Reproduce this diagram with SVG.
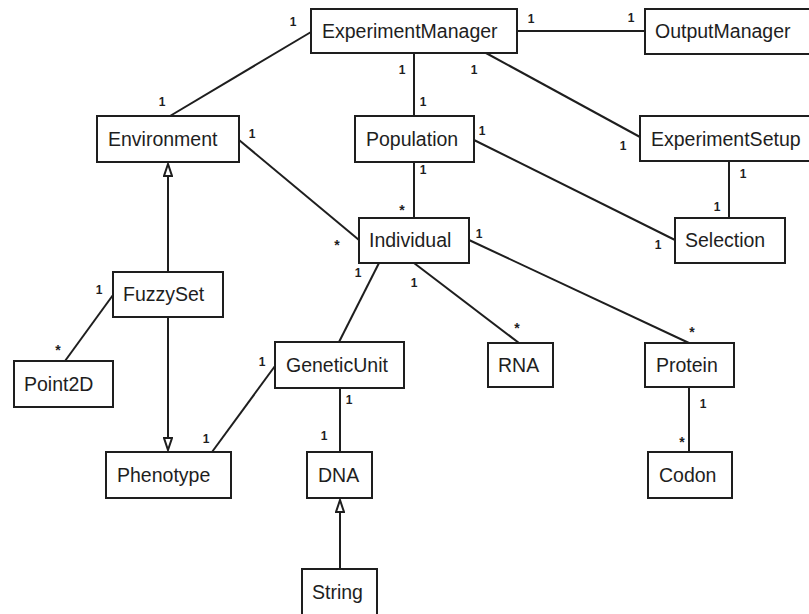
<svg xmlns="http://www.w3.org/2000/svg" width="809" height="614" viewBox="0 0 809 614">
  <style>
    .box { fill: #ffffff; stroke: #1e1e1e; stroke-width: 2; }
    .name { font-family: "Liberation Sans", Arial, sans-serif; font-size: 19.5px; fill: #1e1e1e; }
    .edge { stroke: #1e1e1e; stroke-width: 2; fill: none; }
    .mult { font-family: "Liberation Sans", Arial, sans-serif; font-size: 12px; font-weight: bold; fill: #1e1e1e; text-anchor: middle; }
    .star { font-size: 14px; }
  </style>
  <defs>
    <!-- hollow triangle for generalization ends, tip on the line end -->
    <marker id="gen" viewBox="0 0 14 10" refX="13" refY="5" markerWidth="14" markerHeight="10" markerUnits="userSpaceOnUse" orient="auto">
      <path d="M13 5 L1 1 L1 9 Z" fill="#ffffff" stroke="#1e1e1e" stroke-width="2" stroke-linejoin="miter"/>
    </marker>
  </defs>
  <rect width="809" height="614" fill="#ffffff"/>

  <!-- associations and generalizations -->
  <g id="connectors">
    <line class="edge" x1="311" y1="32" x2="170" y2="116"/>
    <line class="edge" x1="517" y1="31" x2="645" y2="31"/>
    <line class="edge" x1="414" y1="53" x2="414" y2="116"/>
    <line class="edge" x1="486" y1="53" x2="640" y2="137"/>
    <line class="edge" x1="239" y1="140" x2="359" y2="240"/>
    <line class="edge" x1="414" y1="162" x2="414" y2="218"/>
    <line class="edge" x1="474" y1="140" x2="675" y2="240"/>
    <line class="edge" x1="729" y1="161" x2="729" y2="218"/>
    <line class="edge" x1="469" y1="240" x2="689" y2="343"/>
    <line class="edge" x1="379" y1="263" x2="339" y2="342"/>
    <line class="edge" x1="414" y1="263" x2="519" y2="343"/>
    <line class="edge" x1="113" y1="295" x2="65" y2="361"/>
    <line class="edge" x1="275" y1="366" x2="212" y2="452"/>
    <line class="edge" x1="340" y1="388" x2="340" y2="452"/>
    <line class="edge" x1="689" y1="387" x2="689" y2="452"/>
    <line class="edge" x1="168" y1="272" x2="168" y2="164" marker-end="url(#gen)"/>
    <line class="edge" x1="168" y1="317" x2="168" y2="450" marker-end="url(#gen)"/>
    <line class="edge" x1="340" y1="569" x2="340" y2="500" marker-end="url(#gen)"/>
  </g>

  <!-- multiplicities -->
  <g id="multiplicities">
    <text class="mult" x="293" y="26">1</text>
    <text class="mult" x="162" y="106">1</text>
    <text class="mult" x="531" y="23">1</text>
    <text class="mult" x="631" y="22">1</text>
    <text class="mult" x="402" y="74">1</text>
    <text class="mult" x="423" y="106">1</text>
    <text class="mult" x="474" y="74">1</text>
    <text class="mult" x="623" y="150">1</text>
    <text class="mult" x="252" y="138">1</text>
    <text class="mult star" x="337" y="250">*</text>
    <text class="mult" x="423" y="174">1</text>
    <text class="mult star" x="402" y="215">*</text>
    <text class="mult" x="482" y="135">1</text>
    <text class="mult" x="658" y="249">1</text>
    <text class="mult" x="743" y="178">1</text>
    <text class="mult" x="717" y="211">1</text>
    <text class="mult" x="479" y="238">1</text>
    <text class="mult star" x="692" y="337">*</text>
    <text class="mult" x="358" y="277">1</text>
    <text class="mult" x="414" y="287">1</text>
    <text class="mult star" x="517" y="333">*</text>
    <text class="mult" x="99" y="294">1</text>
    <text class="mult star" x="58" y="355">*</text>
    <text class="mult" x="262" y="366">1</text>
    <text class="mult" x="206" y="443">1</text>
    <text class="mult" x="349" y="404">1</text>
    <text class="mult" x="324" y="440">1</text>
    <text class="mult" x="703" y="408">1</text>
    <text class="mult star" x="682" y="447">*</text>
  </g>

  <!-- classes -->
  <g id="ExperimentManager"><rect class="box" x="311" y="9" width="206" height="44"/><text class="name" x="322" y="38">ExperimentManager</text></g>
  <g id="OutputManager"><rect class="box" x="645" y="9" width="170" height="45"/><text class="name" x="655" y="38">OutputManager</text></g>
  <g id="Environment"><rect class="box" x="97" y="116" width="142" height="46"/><text class="name" x="108" y="146">Environment</text></g>
  <g id="Population"><rect class="box" x="355" y="116" width="119" height="46"/><text class="name" x="366" y="146">Population</text></g>
  <g id="ExperimentSetup"><rect class="box" x="640" y="116" width="175" height="45"/><text class="name" x="651" y="146">ExperimentSetup</text></g>
  <g id="Individual"><rect class="box" x="359" y="218" width="110" height="45"/><text class="name" x="369" y="247">Individual</text></g>
  <g id="Selection"><rect class="box" x="675" y="218" width="110" height="45"/><text class="name" x="685" y="247">Selection</text></g>
  <g id="FuzzySet"><rect class="box" x="113" y="272" width="110" height="45"/><text class="name" x="123" y="301">FuzzySet</text></g>
  <g id="Point2D"><rect class="box" x="14" y="361" width="99" height="46"/><text class="name" x="24" y="391">Point2D</text></g>
  <g id="GeneticUnit"><rect class="box" x="275" y="342" width="129" height="46"/><text class="name" x="286" y="372">GeneticUnit</text></g>
  <g id="RNA"><rect class="box" x="488" y="343" width="65" height="44"/><text class="name" x="498" y="372">RNA</text></g>
  <g id="Protein"><rect class="box" x="645" y="343" width="89" height="44"/><text class="name" x="656" y="372">Protein</text></g>
  <g id="Phenotype"><rect class="box" x="106" y="452" width="125" height="46"/><text class="name" x="117" y="482">Phenotype</text></g>
  <g id="DNA"><rect class="box" x="307" y="452" width="65" height="46"/><text class="name" x="318" y="482">DNA</text></g>
  <g id="Codon"><rect class="box" x="648" y="452" width="84" height="46"/><text class="name" x="659" y="482">Codon</text></g>
  <g id="String"><rect class="box" x="302" y="569" width="75" height="60"/><text class="name" x="312" y="599">String</text></g>
</svg>
